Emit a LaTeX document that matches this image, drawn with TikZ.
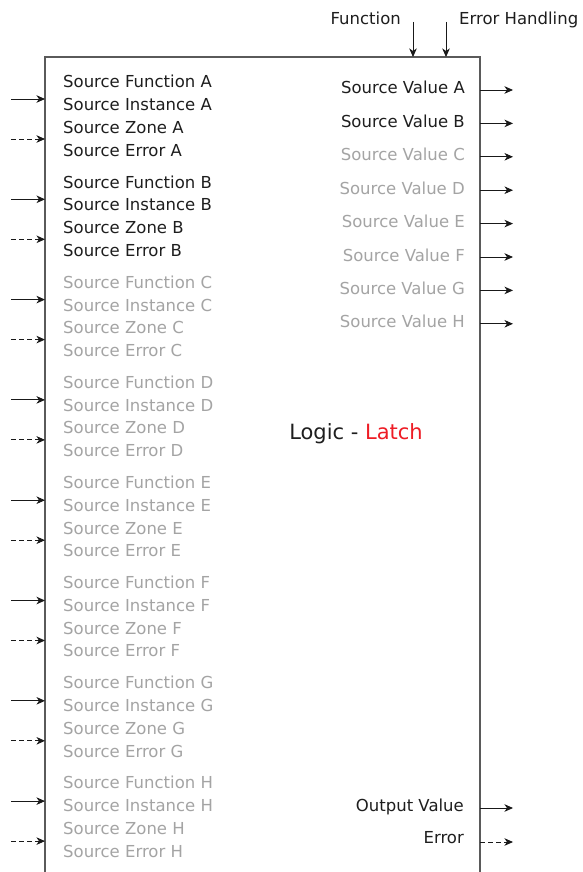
\documentclass[tikz,border=0pt]{standalone}
\usepackage{fontspec}
\setmainfont{DejaVu Sans}
\usetikzlibrary{arrows.meta}
\definecolor{txtdark}{HTML}{1E1E1E}
\definecolor{txtgray}{HTML}{A4A4A4}
\definecolor{boxline}{HTML}{5A5A5A}
\definecolor{latchred}{HTML}{EE1C25}
\tikzset{
  lbl/.style={inner sep=0pt, font=\fontsize{16.5}{19}\selectfont},
  sig/.style={draw=black!90, line width=0.9pt, -{Stealth[length=8.5pt,width=7.5pt,inset=2.5pt]}},
  errsig/.style={sig, dash pattern=on 4.5pt off 3.5pt},
}
\begin{document}
\begin{tikzpicture}[x=1pt,y=-1pt]
\useasboundingbox (0,0) rectangle (583,872);
\clip (0,0) rectangle (583,872);
\fill[white] (0,0) rectangle (583,872);
% main block
\draw[boxline, line width=1.2pt] (45,900) -- (45,57) -- (480,57) -- (480,900);
\coordinate (topF) at (413,57);
\coordinate (topE) at (446,57);
% top inputs
\node[lbl, anchor=base east, text=txtdark] (fn) at (401,25) {Function};
\node[lbl, anchor=base west, text=txtdark] (eh) at (459,25) {Error Handling};
\coordinate (fnin) at (413,22);
\coordinate (ehin) at (446,22);
\draw[sig] (fnin) -- (topF);
\draw[sig] (ehin) -- (topE);
% center label
\node[anchor=base, inner sep=0pt, font=\fontsize{21}{25}\selectfont] (logic) at (356,439) {\textcolor{txtdark}{Logic -} \textcolor{latchred}{Latch}};
% left groups
\foreach \L [count=\i from 0] in {A,B,C,D,E,F,G,H}{
  \ifnum\i<2 \def\tc{txtdark}\else\def\tc{txtgray}\fi
  \pgfmathsetmacro{\yb}{88+100.1*\i}
  \node[lbl, anchor=base west, text=\tc] (fun\L) at (63,\yb) {Source Function \L};
  \node[lbl, anchor=base west, text=\tc] (ins\L) at (63,\yb+22.8) {Source Instance \L};
  \node[lbl, anchor=base west, text=\tc] (zon\L) at (63,\yb+45.6) {Source Zone \L};
  \node[lbl, anchor=base west, text=\tc] (err\L) at (63,\yb+68.4) {Source Error \L};
  \pgfmathsetmacro{\ya}{99+100.3*\i}
  \pgfmathsetmacro{\yd}{139+100.3*\i}
  \coordinate (sin\L) at (11,\ya);
  \coordinate (sbx\L) at (45,\ya);
  \coordinate (ein\L) at (11,\yd);
  \coordinate (ebx\L) at (45,\yd);
  \draw[sig] (sin\L) -- (sbx\L);
  \draw[errsig] (ein\L) -- (ebx\L);
}
% right outputs
\foreach \L [count=\i from 0] in {A,B,C,D,E,F,G,H}{
  \ifnum\i<2 \def\tc{txtdark}\else\def\tc{txtgray}\fi
  \pgfmathsetmacro{\yb}{94+33.4*\i}
  \pgfmathsetmacro{\ya}{90+33.4*\i}
  \node[lbl, anchor=base east, text=\tc] (val\L) at (465,\yb) {Source Value \L};
  \coordinate (vbx\L) at (480,\ya);
  \coordinate (vout\L) at (513,\ya);
  \draw[sig] (vbx\L) -- (vout\L);
}
\node[lbl, anchor=base east, text=txtdark] (outv) at (464,811) {Output Value};
\node[lbl, anchor=base east, text=txtdark] (errv) at (464,843) {Error};
\coordinate (obx) at (480,808);
\coordinate (oout) at (513,808);
\coordinate (ebx) at (480,842);
\coordinate (eout) at (513,842);
\draw[sig] (obx) -- (oout);
\draw[errsig] (ebx) -- (eout);
\end{tikzpicture}
\end{document}
